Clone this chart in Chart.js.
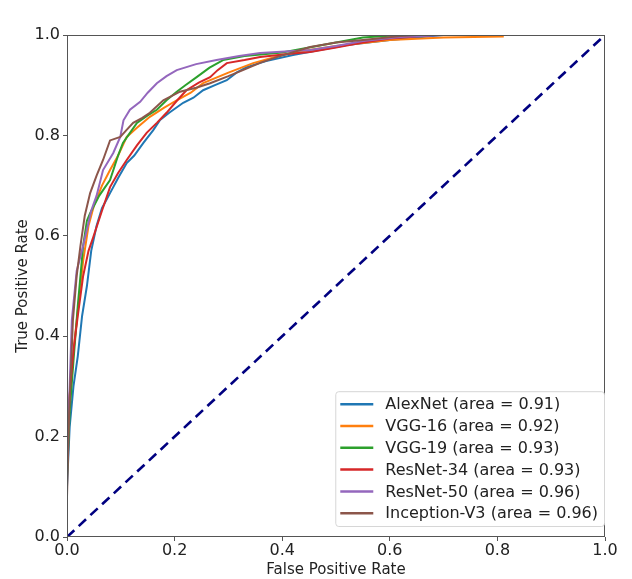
<!DOCTYPE html>
<html>
<head>
<meta charset="utf-8">
<script src="https://cdn.jsdelivr.net/npm/chart.js@4.4.1/dist/chart.umd.min.js"></script>
<style>
  html, body { margin: 0; padding: 0; background: #fff; }
  #wrap { width: 632px; height: 579px; }
</style>
</head>
<body>
<div id="wrap"><canvas id="roc" width="632" height="579"></canvas></div>
<script>
// ROC curve values (false positive rate / true positive rate)
const modelNames = ["AlexNet", "VGG-16", "VGG-19", "ResNet-34", "ResNet-50", "Inception-V3"];
const modelAuc = [0.91, 0.92, 0.93, 0.93, 0.96, 0.96];
const modelColors = ["#1f77b4", "#ff7f0e", "#2ca02c", "#d62728", "#9467bd", "#8c564b"];

const alexnetFpr = [0, 0, 0.005, 0.012, 0.02, 0.028, 0.037, 0.045, 0.055, 0.065, 0.08, 0.095, 0.111, 0.125, 0.142, 0.16, 0.173, 0.19, 0.216, 0.235, 0.253, 0.275, 0.297, 0.315, 0.334, 0.37, 0.42, 0.47, 0.52, 0.6, 0.7, 1];
const alexnetTpr = [0, 0.10, 0.22, 0.30, 0.36, 0.44, 0.50, 0.57, 0.62, 0.655, 0.685, 0.715, 0.745, 0.76, 0.785, 0.81, 0.831, 0.845, 0.865, 0.875, 0.89, 0.90, 0.91, 0.925, 0.936, 0.948, 0.96, 0.97, 0.98, 0.99, 1, 1];

const vgg16Fpr = [0, 0, 0.005, 0.012, 0.02, 0.03, 0.04, 0.05, 0.065, 0.08, 0.095, 0.111, 0.13, 0.154, 0.18, 0.204, 0.23, 0.253, 0.3, 0.346, 0.4, 0.45, 0.5, 0.6, 0.7, 0.81, 0.81, 1];
const vgg16Tpr = [0, 0.17, 0.28, 0.37, 0.45, 0.55, 0.62, 0.66, 0.70, 0.731, 0.76, 0.797, 0.815, 0.837, 0.855, 0.87, 0.885, 0.904, 0.925, 0.944, 0.96, 0.97, 0.978, 0.99, 0.995, 0.997, 1, 1];

const vgg19Fpr = [0, 0, 0.005, 0.012, 0.02, 0.03, 0.037, 0.043, 0.06, 0.08, 0.095, 0.104, 0.117, 0.13, 0.15, 0.167, 0.185, 0.204, 0.22, 0.241, 0.265, 0.29, 0.33, 0.4, 0.45, 0.5, 0.55, 0.62, 1];
const vgg19Tpr = [0, 0.12, 0.25, 0.35, 0.46, 0.58, 0.63, 0.645, 0.68, 0.711, 0.76, 0.785, 0.805, 0.825, 0.84, 0.851, 0.87, 0.887, 0.90, 0.916, 0.935, 0.95, 0.958, 0.965, 0.975, 0.985, 0.995, 1, 1];

const resnet34Fpr = [0, 0, 0.006, 0.013, 0.02, 0.03, 0.04, 0.049, 0.065, 0.08, 0.095, 0.111, 0.13, 0.148, 0.167, 0.185, 0.205, 0.222, 0.245, 0.266, 0.28, 0.297, 0.33, 0.359, 0.41, 0.452, 0.5, 0.55, 0.6, 0.68, 1];
const resnet34Tpr = [0, 0.20, 0.30, 0.38, 0.44, 0.52, 0.57, 0.598, 0.65, 0.697, 0.725, 0.751, 0.78, 0.805, 0.825, 0.845, 0.87, 0.89, 0.905, 0.916, 0.93, 0.944, 0.95, 0.956, 0.962, 0.966, 0.975, 0.985, 0.993, 1, 1];

const resnet50Fpr = [0, 0, 0.005, 0.009, 0.018, 0.03, 0.045, 0.055, 0.067, 0.086, 0.099, 0.105, 0.117, 0.136, 0.15, 0.167, 0.185, 0.204, 0.24, 0.278, 0.32, 0.359, 0.452, 0.5, 0.55, 0.62, 0.7, 1];
const resnet50Tpr = [0, 0.15, 0.30, 0.432, 0.53, 0.58, 0.65, 0.68, 0.731, 0.765, 0.797, 0.83, 0.851, 0.867, 0.885, 0.904, 0.918, 0.93, 0.942, 0.95, 0.958, 0.964, 0.97, 0.978, 0.988, 0.996, 1, 1];

const inceptionFpr = [0, 0, 0.004, 0.008, 0.011, 0.018, 0.025, 0.033, 0.043, 0.055, 0.067, 0.08, 0.099, 0.11, 0.123, 0.14, 0.154, 0.179, 0.21, 0.24, 0.266, 0.3, 0.327, 0.36, 0.39, 0.452, 0.5, 0.55, 0.62, 0.65, 1];
const inceptionTpr = [0, 0.08, 0.25, 0.35, 0.432, 0.52, 0.58, 0.64, 0.685, 0.72, 0.751, 0.79, 0.797, 0.81, 0.825, 0.835, 0.845, 0.87, 0.887, 0.895, 0.904, 0.918, 0.93, 0.945, 0.956, 0.976, 0.985, 0.99, 0.998, 1, 1];

const chanceFpr = [0, 1];
const chanceTpr = [0, 1];

const tickValues = [0, 0.2, 0.4, 0.6, 0.8, 1.0];

const fprLists = [alexnetFpr, vgg16Fpr, vgg19Fpr, resnet34Fpr, resnet50Fpr, inceptionFpr];
const tprLists = [alexnetTpr, vgg16Tpr, vgg19Tpr, resnet34Tpr, resnet50Tpr, inceptionTpr];

const FONT = "'DejaVu Sans', sans-serif";

function toPoints(xs, ys) {
  return xs.map((x, i) => ({ x: x, y: ys[i] }));
}

const datasets = modelNames.map((name, i) => ({
  label: name + " (area = " + modelAuc[i].toFixed(2) + ")",
  data: toPoints(fprLists[i], tprLists[i]),
  borderColor: modelColors[i],
  borderWidth: 2,
  pointRadius: 0,
  showLine: true,
  tension: 0,
  order: 6 - i
}));

datasets.push({
  label: "chance",
  data: toPoints(chanceFpr, chanceTpr),
  borderColor: "#000080",
  borderWidth: 2.6,
  borderDash: [10, 6],
  pointRadius: 0,
  showLine: true,
  order: 0
});

// frame around the plot area + legend box in the lower right corner
const framePlugin = {
  id: "frame",
  afterDraw(chart) {
    const ctx = chart.ctx;
    const a = chart.chartArea;
    ctx.save();
    ctx.strokeStyle = "#555";
    ctx.lineWidth = 1;
    ctx.strokeRect(a.left + 0.5, a.top + 0.5, a.right - a.left - 1, a.bottom - a.top - 1);

    // legend
    ctx.font = "16px " + FONT;
    const items = chart.data.datasets.slice(0, modelNames.length);
    let maxW = 0;
    items.forEach(d => { maxW = Math.max(maxW, ctx.measureText(d.label).width); });
    const rowH = 21.8;
    const boxW = 5 + 33 + 12 + maxW + 6;
    const boxH = items.length * rowH + 4;
    const right = a.right - 1;
    const bottom = a.bottom - 11;
    const left = right - boxW;
    const top = bottom - boxH;
    ctx.fillStyle = "rgba(255,255,255,0.85)";
    ctx.strokeStyle = "#d6d6d6";
    ctx.beginPath();
    ctx.roundRect(left + 0.5, top + 0.5, boxW, boxH, 3);
    ctx.fill();
    ctx.stroke();
    ctx.textBaseline = "middle";
    items.forEach((d, i) => {
      const cy = top + 13 + i * rowH;
      ctx.strokeStyle = d.borderColor;
      ctx.lineWidth = 2.5;
      ctx.beginPath();
      ctx.moveTo(left + 5, cy);
      ctx.lineTo(left + 38, cy);
      ctx.stroke();
      ctx.fillStyle = "#222";
      ctx.fillText(d.label, left + 50, cy + 1);
    });
    ctx.restore();
  }
};

new Chart(document.getElementById("roc"), {
  type: "scatter",
  data: { datasets: datasets },
  options: {
    responsive: false,
    animation: false,
    layout: { padding: { left: 14, top: 35, right: 27, bottom: 0 } },
    plugins: {
      legend: { display: false },
      tooltip: { enabled: false }
    },
    scales: {
      x: {
        type: "linear",
        min: 0,
        max: 1,
        afterBuildTicks(scale) { scale.ticks = tickValues.map(v => ({ value: v })); },
        afterFit(scale) { scale.height = 42; },
        grid: { drawOnChartArea: false, drawTicks: true, tickLength: 4, color: "#555" },
        border: { display: false },
        ticks: {
          color: "#222",
          font: { family: FONT, size: 16 },
          padding: 0,
          maxRotation: 0,
          callback: v => v.toFixed(1)
        },
        title: {
          display: true,
          text: "False Positive Rate",
          color: "#222",
          font: { family: FONT, size: 15 },
          padding: { top: 0, bottom: 0 }
        }
      },
      y: {
        type: "linear",
        min: 0,
        max: 1.0,
        afterBuildTicks(scale) { scale.ticks = tickValues.map(v => ({ value: v })); },
        afterFit(scale) { scale.width = 53; },
        grid: { drawOnChartArea: false, drawTicks: true, tickLength: 4, color: "#555" },
        border: { display: false },
        ticks: {
          color: "#222",
          font: { family: FONT, size: 16 },
          padding: 3,
          callback: v => v.toFixed(1)
        },
        title: {
          display: true,
          text: "True Positive Rate",
          color: "#222",
          font: { family: FONT, size: 15 },
          padding: { top: 0, bottom: 0 }
        }
      }
    }
  },
  plugins: [framePlugin]
});
</script>
</body>
</html>
